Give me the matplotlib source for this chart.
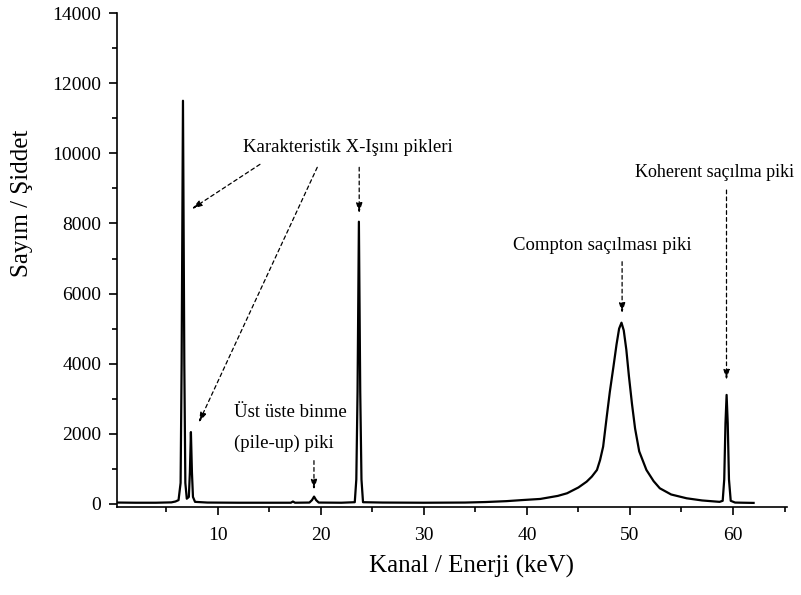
import numpy as np
import matplotlib.pyplot as plt
from matplotlib.ticker import MultipleLocator

plt.rcParams['font.family'] = ['Liberation Serif', 'DejaVu Serif']

# spektrum noktalari: enerji (keV) ve sayim
enerji = [0.3, 2.0, 4.0, 5.5, 5.9, 6.2, 6.4, 6.5, 6.63, 6.76, 6.86, 7.0,
          7.2, 7.3, 7.4, 7.5, 7.6, 7.8, 9.0, 12.0, 15.0, 17.1, 17.3, 17.5,
          18.9, 19.15, 19.35, 19.55, 19.8, 22.0, 23.3, 23.45, 23.57, 23.7,
          23.83, 23.95, 24.1, 26.0, 30.0, 34.0, 36.0, 38.0, 39.5, 41.3,
          43.0, 43.9, 45.0, 45.8, 46.3, 46.8, 47.1, 47.4, 47.75, 48.05,
          48.4, 48.7, 48.95, 49.18, 49.4, 49.65, 49.9, 50.2, 50.5, 50.9,
          51.6, 52.3, 52.9, 54.0, 55.5, 57.0, 58.7, 59.0, 59.15, 59.27,
          59.38, 59.49, 59.61, 59.78, 60.2, 61.0, 62.0]
sayim = [40, 35, 35, 45, 70, 110, 600, 4000, 11500, 4000, 600, 150,
         200, 900, 2050, 900, 200, 60, 40, 35, 35, 35, 70, 35,
         40, 110, 210, 110, 40, 35, 50, 700, 3200, 8050,
         3200, 700, 50, 40, 35, 40, 55, 80, 110, 143,
         230, 305, 470, 636, 780, 970, 1250, 1634, 2490, 3200,
         3915, 4550, 5000, 5170, 4950, 4400, 3650, 2850, 2150, 1500,
         970, 650, 447, 270, 162, 100, 60, 90, 700, 2300,
         3110, 2300, 700, 90, 40, 35, 30]

# etiketler: metin, x, y, boyut
etiketler = [
    ("Karakteristik X-Işını pikleri", 12.47, 10180, 13.5),
    ("Üst üste binme", 11.61, 2603, 13.5),
    ("(pile-up) piki", 11.61, 1739, 13.5),
    ("Compton saçılması piki", 38.61, 7385, 13.5),
    ("Koherent saçılma piki", 50.45, 9447, 13),
]

# oklar: baslangic (x, y) -> uc (x, y)
oklar = [
    ((14.1, 9686), (7.48, 8412)),
    ((19.66, 9601), (8.16, 2318)),
    ((23.73, 9601), (23.73, 8289)),
    ((19.34, 1235), (19.34, 400)),
    ((49.24, 6909), (49.24, 5438)),
    ((59.37, 8953), (59.37, 3536)),
]

fig = plt.figure(figsize=(8.01, 5.95), dpi=100)
ax = fig.add_axes([0.1457, 0.148, 0.8363, 0.83])

ax.plot(enerji, sayim, color='black', lw=1.6, solid_joinstyle='round')

ax.set_xlim(0.2, 65.2)
ax.set_ylim(-85, 14000)
ax.xaxis.set_major_locator(MultipleLocator(10))
ax.xaxis.set_minor_locator(MultipleLocator(5))
ax.yaxis.set_major_locator(MultipleLocator(2000))
ax.yaxis.set_minor_locator(MultipleLocator(1000))
ax.set_xticks([10, 20, 30, 40, 50, 60])

for side in ['top', 'right']:
    ax.spines[side].set_visible(False)
for side in ['left', 'bottom']:
    ax.spines[side].set_linewidth(1.2)

ax.tick_params(which='major', direction='out', length=6, width=1.2,
               labelsize=14)
ax.tick_params(which='minor', direction='out', length=3.5, width=1.2)
ax.tick_params(axis='x', which='major', length=5.5, pad=9)
ax.tick_params(axis='y', which='major', pad=5)

ax.set_xlabel('Kanal / Enerji (keV)', fontsize=18)
ax.set_ylabel('Sayım / Şiddet', fontsize=18)
ax.xaxis.set_label_coords(0.529, -0.097)
ax.yaxis.set_label_coords(-0.125, 0.615)

for metin, x, y, boyut in etiketler:
    ax.text(x, y, metin, fontsize=boyut, ha='left', va='center', clip_on=False)

for (x0, y0), (x1, y1) in oklar:
    ax.annotate('', xy=(x1, y1), xytext=(x0, y0),
                arrowprops=dict(arrowstyle='-|>,head_length=0.6,head_width=0.18',
                                color='black', lw=0.9, linestyle=(0, (3, 2.5)),
                                shrinkA=0, shrinkB=0))

fig.savefig('out.png', dpi=100)
